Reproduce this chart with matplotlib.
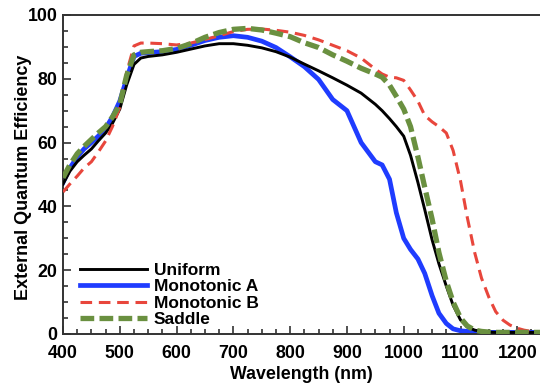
import numpy as np
import matplotlib.pyplot as plt
from matplotlib.ticker import MultipleLocator

plt.rcParams['font.family'] = ['Liberation Sans', 'DejaVu Sans']
plt.rcParams['font.weight'] = 'bold'

# wavelength grid (nm)
wavelength = [400, 412, 425, 437, 450, 462, 475, 487, 500, 512, 525, 537, 550, 575,
              600, 625, 650, 675, 700, 725, 750, 775, 800, 825, 850, 875, 900, 925,
              950, 962, 975, 987, 1000, 1012, 1025, 1037, 1050, 1062, 1075, 1087,
              1100, 1112, 1125, 1137, 1150, 1162, 1175, 1187, 1200, 1212, 1225, 1250]

uniform = [47, 51, 54, 56, 58, 60.5, 63, 66, 70.5, 78, 84.5, 86.5, 87, 87.5,
           88.3, 89.3, 90.3, 91, 91, 90.5, 89.7, 88.5, 86.8, 84.6, 82.5, 80.3, 78, 75.5,
           72, 70, 67.5, 65, 62, 56, 47.5, 39, 29.5, 22, 15, 9,
           4.4, 2.2, 1.2, 0.8, 0.6, 0.5, 0.5, 0.5, 0.5, 0.5, 0.5, 0.5]

mono_a = [47.5, 52, 55.5, 58, 60, 62, 64.5, 68, 73, 80, 87, 88, 88.2, 88.5,
          89.2, 90.5, 92, 93, 93.5, 93, 91.8, 89.8, 86.9, 83.8, 79.8, 73.5, 70, 60,
          54, 53, 48.5, 38, 30, 26.5, 23.5, 19, 12, 6.5, 3.3, 1.6,
          1.0, 0.8, 0.6, 0.5, 0.5, 0.5, 0.5, 0.5, 0.5, 0.5, 0.5, 0.5]

mono_b = [44.5, 47, 49.5, 52, 54, 57, 60.5, 65, 71, 82, 90.3, 91.2, 91.2, 91,
          90.6, 91.2, 92.3, 93.5, 94.8, 95.5, 95.6, 95.2, 94.6, 93.6, 92.2, 90.5, 88.8, 86.5,
          83, 81.5, 80.5, 80.3, 79.5, 76.5, 73, 68.5, 66.5, 65, 63, 57.5,
          48, 36.5, 25.5, 17.5, 11.5, 7, 4.3, 2.8, 1.8, 1.2, 0.8, 0.6]

saddle = [49, 53, 56.5, 58.8, 61, 63, 65, 68, 72, 81, 87.5, 88.3, 88.5, 88.8,
          89.5, 91, 93, 94.5, 95.5, 95.8, 95.3, 94.3, 93.2, 91.3, 89.8, 87.5, 85.5, 83.3,
          81.5, 80.5, 78, 74.5, 70.5, 65, 55.5, 46, 36, 25.5, 16.5, 10,
          5, 2.5, 1.2, 0.8, 0.6, 0.5, 0.5, 0.5, 0.5, 0.5, 0.5, 0.5]

fig = plt.figure(figsize=(5.4, 3.87), dpi=100)
ax = fig.add_axes([0.1167, 0.137, 0.8833, 0.8243])

ax.plot(wavelength, uniform, color='black', lw=2.1, label='Uniform', zorder=3)
ax.plot(wavelength, mono_a, color='#1f3cff', lw=3.4, label='Monotonic A', zorder=2)
ax.plot(wavelength, mono_b, color='#e8463c', lw=2.2, ls=(0, (3.8, 2.2)), label='Monotonic B', zorder=4)
ax.plot(wavelength, saddle, color='#6a9040', lw=3.8, ls=(0, (2.6, 1.0)), label='Saddle', zorder=5)

ax.set_xlim(400, 1240)
ax.set_ylim(0, 100)
ax.xaxis.set_major_locator(MultipleLocator(100))
ax.xaxis.set_minor_locator(MultipleLocator(25))
ax.yaxis.set_major_locator(MultipleLocator(20))
ax.yaxis.set_minor_locator(MultipleLocator(5))
ax.tick_params(which='both', direction='in', top=False, right=False, labelsize=12.8, width=1.2, color='#333333')
ax.tick_params(axis='x', which='major', length=6, pad=8)
ax.tick_params(axis='y', which='major', length=6, pad=4)
ax.tick_params(which='minor', length=3.5)
for side in ['left', 'bottom', 'top']:
    ax.spines[side].set_linewidth(1.4)
    ax.spines[side].set_color('#333333')
ax.spines['right'].set_visible(False)

ax.set_xlabel('Wavelength (nm)', fontsize=12.8, fontweight='bold', labelpad=3)
ax.set_ylabel('External Quantum Efficiency', fontsize=13.0, fontweight='bold')
ax.yaxis.set_label_coords(-0.066, 0.49)

ax.legend(loc='lower left', bbox_to_anchor=(0.021, 0.0), frameon=False, fontsize=12.5,
          handlelength=3.85, handletextpad=0.4, labelspacing=0.07, borderaxespad=0.0)

fig.savefig('out.png', dpi=100)
